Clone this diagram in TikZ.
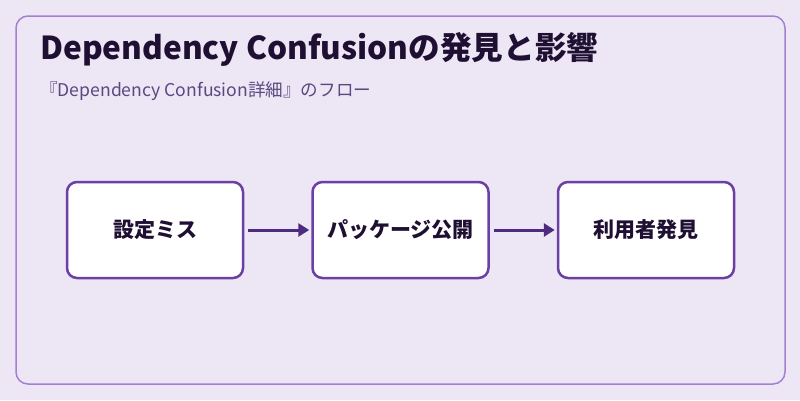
\documentclass[tikz,border=0pt]{standalone}
\usepackage{fontspec}
\setmainfont{Noto Sans CJK JP}
\usetikzlibrary{arrows.meta,positioning}
\definecolor{bgpurple}{HTML}{EDE6F5}
\definecolor{framepurple}{HTML}{A47FD2}
\definecolor{boxpurple}{HTML}{6B3FA3}
\definecolor{arrowpurple}{HTML}{4E2A80}
\definecolor{titledark}{HTML}{1F1033}
\definecolor{subpurple}{HTML}{5A4880}
\tikzset{
  frame/.style={draw=framepurple, fill=bgpurple, rounded corners=12pt, line width=1.5pt},
  stepbox/.style={draw=boxpurple, fill=white, rounded corners=10pt, line width=2.5pt,
    minimum width=176pt, minimum height=96pt, inner sep=0pt,
    font=\fontsize{21}{25}\selectfont\bfseries, text=titledark},
  flow/.style={-{Triangle[length=11pt,width=13pt]}, line width=3pt, color=arrowpurple},
  headline/.style={anchor=base west, inner sep=0pt, font=\fontsize{31.6}{36}\selectfont\bfseries, text=titledark},
  subline/.style={anchor=base west, inner sep=0pt, font=\fontsize{17.6}{21}\selectfont, text=subpurple},
}
\begin{document}
\begin{tikzpicture}[x=1pt,y=-1pt]
  % canvas and outer frame
  \fill[bgpurple] (0,0) rectangle (800,400);
  \draw[frame] (16,16) rectangle (785,384);
  % headings
  \node[headline] (title) at (40,59) {Dependency Confusionの発見と影響};
  \node[subline] (sub) at (40,96) {『Dependency Confusion詳細』のフロー};
  % flow
  \node[stepbox] (miss) at (155,230) {設定ミス};
  \node[stepbox, right=67pt of miss] (pub) {パッケージ公開};
  \node[stepbox, right=67pt of pub] (found) {利用者発見};
  \draw[flow] ([xshift=4pt]miss.east) -- ([xshift=-2pt]pub.west);
  \draw[flow] ([xshift=4pt]pub.east) -- ([xshift=-2pt]found.west);
\end{tikzpicture}
\end{document}
